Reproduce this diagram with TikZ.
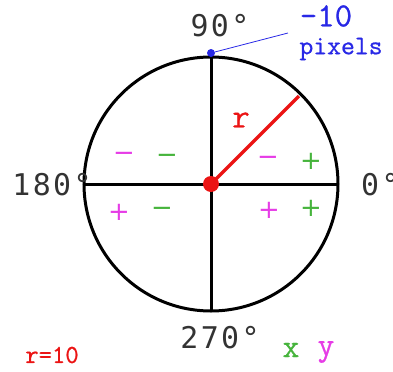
\documentclass[tikz,border=0pt]{standalone}
\usepackage{fontspec}
\newfontfamily\courfont[FakeBold=0.8]{Latin Modern Mono}
\newfontfamily\degfont[LetterSpace=8]{DejaVu Sans Mono}
\newfontfamily\signfont{DejaVu Sans}
\definecolor{magn}{RGB}{230,60,230}
\definecolor{grn}{RGB}{70,180,60}
\definecolor{blu}{RGB}{40,40,230}
\definecolor{redd}{RGB}{235,20,20}
\tikzset{
  deg/.style={inner sep=0pt, text=black!80, font=\degfont\fontsize{30}{30}\selectfont},
  sgn/.style={inner sep=0pt, font=\signfont\fontsize{26}{26}\selectfont},
  cour/.style={inner sep=0pt, font=\courfont\fontsize{#1}{#1}\selectfont},
  axis/.style={line width=3bp, black}
}
\begin{document}
\begin{tikzpicture}[x=1bp,y=-1bp]
\useasboundingbox (0,0) rectangle (393,372);
\coordinate (c) at (211,184);
\draw[axis] (c) circle (127);
\coordinate (top) at (211,57);
\coordinate (bot) at (211,311);
\coordinate (lft) at (84,184);
\coordinate (rgt) at (338,184);
\draw[axis] (top) -- (bot);
\draw[axis] (lft) -- (rgt);
\coordinate (rend) at (299,96);
\draw[line width=3.5bp, redd] (c) -- (rend);
\node[circle, fill=redd, minimum size=16bp, inner sep=0pt] (cdot) at (c) {};
\node[circle, fill=blu, minimum size=8bp, inner sep=0pt] (bdot) at (211,53) {};
\coordinate (lend) at (288,33);
\draw[blu, line width=0.8bp] (bdot) -- (lend);
\node[cour=34, text=blu] (m10) at (326,16) {-10};
\node[cour=27, text=blu] (pix) at (341,49) {pixels};
\node[deg] (d90) at (220,26) {90°};
\node[deg] (d180) at (52,185) {180°};
\node[deg, anchor=west] (d0) at (361,185) {0°};
\node[deg] (d270) at (220,338) {270°};
\node[cour=34, text=redd] (r) at (241,120) {r};
\node[cour=26, text=redd] (r10) at (52,355) {r=10};
\node[cour=33, text=grn] (xl) at (291,350) {x};
\node[cour=33, text=magn] (yl) at (326,352) {y};
% quadrant signs
\node[sgn, text=magn] (q2a) at (124,157) {−};
\node[sgn, text=grn] (q2b) at (167,159) {−};
\node[sgn, text=magn] (q1a) at (268,161) {−};
\node[sgn, text=grn] (q1b) at (311,161) {+};
\node[sgn, text=magn] (q3a) at (119,212) {+};
\node[sgn, text=grn] (q3b) at (162,212) {−};
\node[sgn, text=magn] (q4a) at (269,210) {+};
\node[sgn, text=grn] (q4b) at (311,208) {+};
\end{tikzpicture}
\end{document}
